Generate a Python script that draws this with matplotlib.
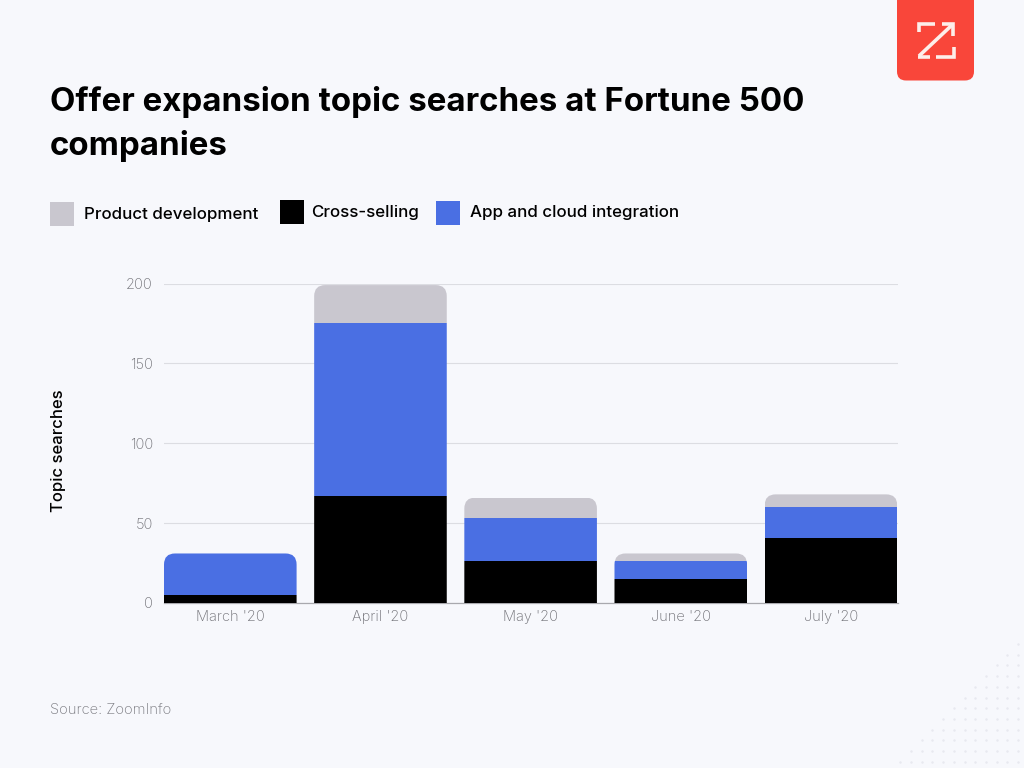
import matplotlib.pyplot as plt
from matplotlib.patches import FancyBboxPatch, Rectangle

# Valori
months = ["March '20", "April '20", "May '20", "June '20", "July '20"]
cross_selling = [5, 67, 26, 15, 41]
app_cloud = [26, 108, 27, 11, 19]
product_dev = [0, 24, 13, 5, 8]
y_ticks = [0, 50, 100, 150, 200]

BG = '#f7f8fc'
BLACK = '#000000'
BLUE = '#4a6fe3'
GRAY = '#c9c7cf'
RED = '#f9463a'
TICK = '#6f6f75'

plt.rcParams['font.family'] = ['Inter', 'DejaVu Sans']

fig = plt.figure(figsize=(10.24, 7.68), dpi=100, facecolor=BG)

# Overlay in pixel per logo, legenda e puntini
bg = fig.add_axes([0, 0, 1, 1], zorder=0)
bg.set_xlim(0, 1024)
bg.set_ylim(768, 0)
bg.axis('off')

# Puntini in basso a destra
dot_x = []
dot_y = []
for row in range(12):
    for col in range(row + 1):
        dot_x.append(1018 - col * 10.7)
        dot_y.append(644 + row * 10.7)
bg.scatter(dot_x, dot_y, s=3, color='#e8e9ef', linewidths=0)

# Logo
bg.add_patch(FancyBboxPatch((897, -20), 77, 100.5, boxstyle='round,pad=0,rounding_size=9',
                            facecolor=RED, edgecolor='none'))
logo_lines = [
    ([919, 919, 935], [32, 24, 24]),
    ([919, 952], [56, 25]),
    ([936, 954, 954], [57, 57, 47]),
    ([918, 930], [57, 57]),
    ([942, 953, 953], [24, 24, 36]),
]
for lx, ly in logo_lines:
    bg.plot(lx, ly, color='#fdeeea', lw=2.6, solid_capstyle='butt', solid_joinstyle='miter')

# Titolo
bg.text(50, 102, 'Offer expansion topic searches at Fortune 500', fontsize=23.8, fontweight='bold',
        color='black', va='center', ha='left')
bg.text(50, 146, 'companies', fontsize=23.8, fontweight='bold', color='black', va='center', ha='left')

# Legenda
legend_items = [
    (50, 202, GRAY, 84, 214, 'Product development'),
    (280, 200, BLACK, 311, 212, 'Cross-selling'),
    (436, 201, BLUE, 470, 213, 'App and cloud integration'),
]
for sx, sy, col, tx, ty, label in legend_items:
    bg.add_patch(Rectangle((sx, sy), 24, 24, facecolor=col, edgecolor='none'))
    bg.text(tx, ty, label, fontsize=12.2, fontweight='medium', color='black', va='center', ha='left')

bg.text(50, 710, 'Source: ZoomInfo', fontsize=10.6, color='#77777d', va='center', ha='left', fontweight='light')
bg.text(59, 451, 'Topic searches', fontsize=12, fontweight='medium', color='black', rotation=90,
        va='center', ha='center')

# Grafico
left, right, top, bottom = 164, 898, 283.5, 603
ax = fig.add_axes([left / 1024, 1 - bottom / 768, (right - left) / 1024, (bottom - top) / 768], zorder=1)
ax.patch.set_alpha(0)

x = list(range(len(months)))
bar_w = 0.883
stack_top = [c + a + p for c, a, p in zip(cross_selling, app_cloud, product_dev)]
bottom_blue = cross_selling
bottom_gray = [c + a for c, a in zip(cross_selling, app_cloud)]

b1 = ax.bar(x, cross_selling, bar_w, color=BLACK, zorder=3)
b2 = ax.bar(x, app_cloud, bar_w, bottom=bottom_blue, color=BLUE, zorder=3)
b3 = ax.bar(x, product_dev, bar_w, bottom=bottom_gray, color=GRAY, zorder=3)

ax.set_xlim(-0.5 + (1 - bar_w) / 2, len(months) - 0.5 - (1 - bar_w) / 2 + 0.005)
ax.set_ylim(0, 200)

# Angoli superiori arrotondati: clip di tutta la pila
px_x = (right - left) / (ax.get_xlim()[1] - ax.get_xlim()[0])
px_y = (bottom - top) / 200
for i, total in enumerate(stack_top):
    clip = FancyBboxPatch((i - bar_w / 2, -30), bar_w, total + 30,
                          boxstyle=f'round,pad=0,rounding_size={11 / px_x}',
                          mutation_aspect=px_x / px_y, transform=ax.transData,
                          facecolor='none', edgecolor='none')
    ax.add_patch(clip)
    for bars in (b1, b2, b3):
        bars[i].set_clip_path(clip)

ax.set_xticks(x)
ax.set_xticklabels(months, fontsize=10.5, color=TICK, fontweight='light')
ax.set_yticks(y_ticks)
ax.set_yticklabels([str(v) for v in y_ticks], fontsize=10.5, color=TICK, fontweight='light')
ax.tick_params(axis='both', length=0)
ax.tick_params(axis='x', pad=5)
ax.tick_params(axis='y', pad=8)
ax.grid(axis='y', color='#dcdde2', lw=0.8, zorder=0)
ax.set_axisbelow(True)
for side in ('top', 'left', 'right'):
    ax.spines[side].set_visible(False)
ax.spines['bottom'].set_color('#a9a9ae')
ax.spines['bottom'].set_linewidth(0.9)

fig.savefig('out.png', dpi=100, facecolor=BG)
plt.close(fig)
